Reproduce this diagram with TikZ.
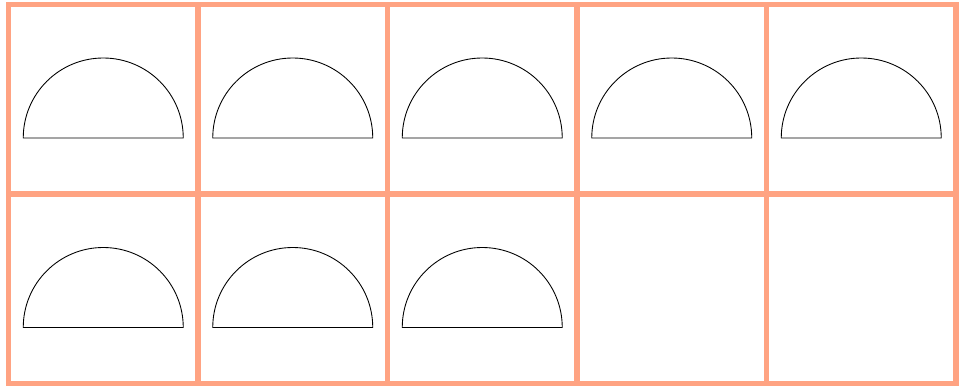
\documentclass[tikz,border=0pt]{standalone}
\usepackage{tikz}
\usepackage{xcolor}
\definecolor{salmon}{RGB}{255,163,130}

\begin{document}
\begin{tikzpicture}
\tikzstyle{frame}=[draw=salmon,line width=3.1pt]
\tikzstyle{halfdisk}=[draw=black,line width=0.5pt]

\useasboundingbox (0,0) rectangle (19.2,7.7);

% cells of the grid
\foreach \i in {0,...,4}
  \foreach \j in {0,1}
    \draw[frame] ({0.17+3.79*\i},{0.03+3.79*\j}) rectangle ++(3.79,3.79);

% half circles, top row
\foreach \i in {0,...,4}
  \draw[halfdisk] ({0.17+3.79*\i+1.895-1.6},4.94) arc[start angle=180,end angle=0,radius=1.6] -- cycle;

% half circles, bottom row
\foreach \i in {0,...,2}
  \draw[halfdisk] ({0.17+3.79*\i+1.895-1.6},1.15) arc[start angle=180,end angle=0,radius=1.6] -- cycle;
\end{tikzpicture}
\end{document}
